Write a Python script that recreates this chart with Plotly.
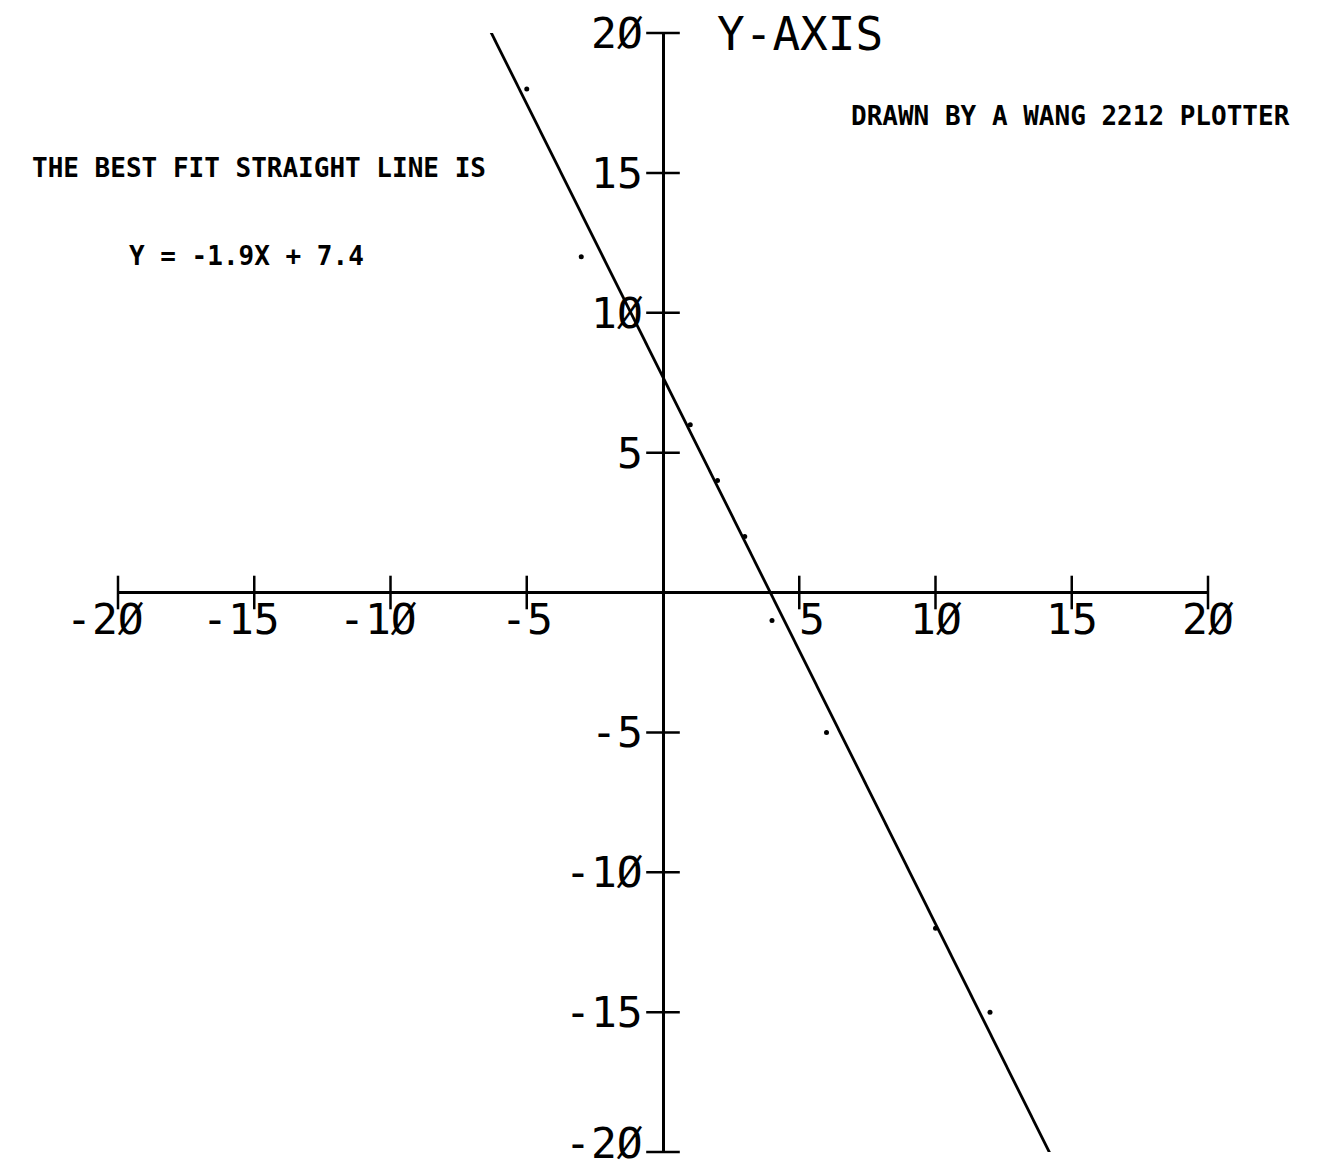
import plotly.graph_objects as go

# measured points (dots on the plot)
pts_x = [-5, -3, 1, 2, 3, 4, 6, 10, 12]
pts_y = [18, 12, 6, 4, 2, -1, -5, -12, -15]

# best fit line as drawn by the plotter (end points)
fit_x = [-6.35, 14.2]
fit_y = [20.1, -20.05]

tick_vals = [-20, -15, -10, -5, 5, 10, 15, 20]
tick_text = ['-2Ø', '-15', '-1Ø', '-5', '5', '1Ø', '15', '2Ø']

FONT = 'DejaVu Sans Mono'
INK = 'black'

fig = go.Figure()

# axis ticks crossing the axes
fig.add_trace(go.Scatter(
    x=tick_vals, y=[0] * len(tick_vals), mode='markers', cliponaxis=False,
    marker=dict(symbol='line-ns', size=24, line=dict(width=2.5, color=INK)),
    hoverinfo='skip'))
fig.add_trace(go.Scatter(
    x=[0] * len(tick_vals), y=tick_vals, mode='markers', cliponaxis=False,
    marker=dict(symbol='line-ew', size=24, line=dict(width=2.5, color=INK)),
    hoverinfo='skip'))

fig.add_trace(go.Scatter(x=fit_x, y=fit_y, mode='lines', cliponaxis=False,
                         line=dict(color=INK, width=2.8)))
fig.add_trace(go.Scatter(x=pts_x, y=pts_y, mode='markers', cliponaxis=False,
                         marker=dict(color=INK, size=5)))

annotations = []
for v, t in zip(tick_vals, tick_text):
    # x labels: last character starts at the tick
    annotations.append(dict(x=v, y=0, xref='x', yref='y', text=t, showarrow=False,
                            xanchor='right', yanchor='middle', xshift=28, yshift=-26,
                            font=dict(family=FONT, size=43, color=INK)))
    # y labels: left of the axis (bottom one nudged up to stay on the page)
    annotations.append(dict(x=0, y=v, xref='x', yref='y', text=t, showarrow=False,
                            xanchor='right', yanchor='middle', xshift=-18,
                            yshift=9 if v == -20 else 0,
                            font=dict(family=FONT, size=43, color=INK)))

annotations += [
    dict(x=5.02, y=19.97, text='Y-AXIS', font=dict(family=FONT, size=46, color=INK)),
    dict(x=21.06, y=1.88, text='X-AXIS', font=dict(family=FONT, size=46, color=INK)),
    dict(x=-14.84, y=15.18, text='THE BEST FIT STRAIGHT LINE IS',
         font=dict(family=FONT, size=26, color=INK, weight='bold')),
    dict(x=-15.27, y=12.03, text='Y = -1.9X + 7.4',
         font=dict(family=FONT, size=26, color=INK, weight='bold')),
    dict(x=14.95, y=17.04, text='DRAWN BY A WANG 2212 PLOTTER',
         font=dict(family=FONT, size=26, color=INK, weight='bold')),
]
for a in annotations[-5:]:
    a.update(xref='x', yref='y', showarrow=False, xanchor='center', yanchor='middle')

fig.update_layout(
    width=1341, height=1171,
    paper_bgcolor='white', plot_bgcolor='white',
    showlegend=False,
    margin=dict(l=110, r=141, t=25, b=27),
    annotations=annotations,
)
fig.update_xaxes(range=[-20, 20], showgrid=False, showticklabels=False, ticks='',
                 zeroline=True, zerolinecolor=INK, zerolinewidth=2.5, showline=False)
fig.update_yaxes(range=[-20, 20], showgrid=False, showticklabels=False, ticks='',
                 zeroline=True, zerolinecolor=INK, zerolinewidth=2.5, showline=False)

fig.write_html('out.html')
